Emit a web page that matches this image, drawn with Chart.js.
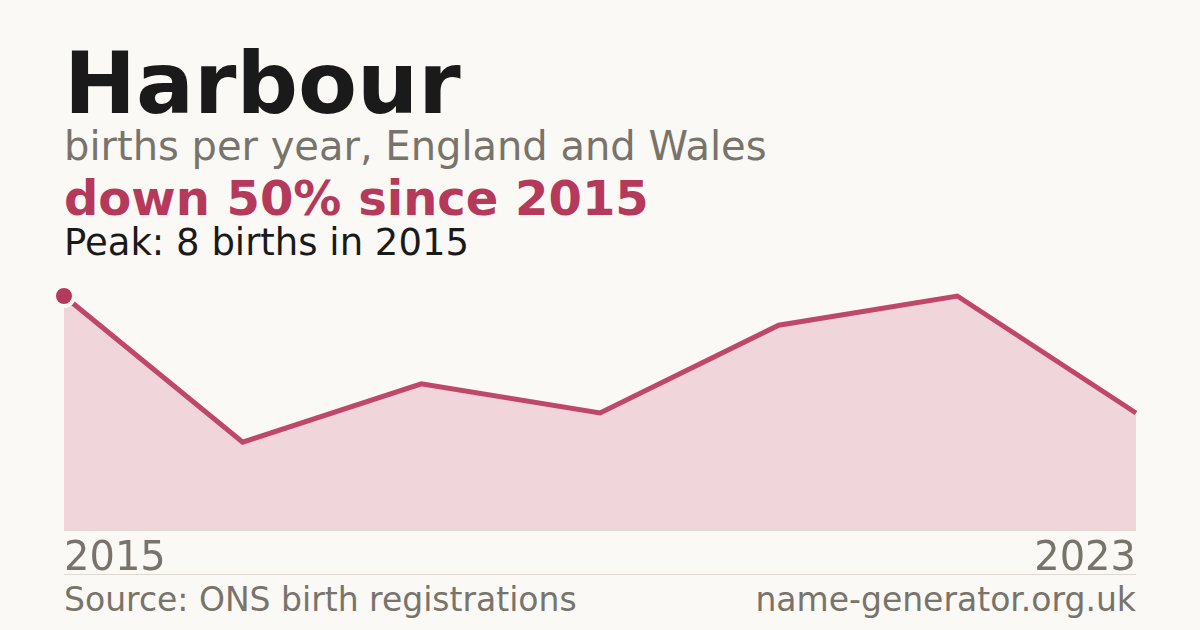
<!DOCTYPE html>
<html>
<head>
<meta charset="utf-8">
<script src="https://cdn.jsdelivr.net/npm/chart.js@4"></script>
<style>
  body { margin: 0; width: 1200px; height: 630px; background: #faf9f5; font-family: "DejaVu Sans", sans-serif; position: relative; overflow: hidden; }
  .t { position: absolute; left: 64px; white-space: nowrap; }
  #title { top: 40px; font-size: 86px; font-weight: bold; color: #1a1a1a; line-height: 1; }
  #sub { top: 126px; font-size: 40px; color: #78736b; line-height: 1; }
  #trend { top: 174px; font-size: 48px; font-weight: bold; color: #b5395a; line-height: 1; }
  #peak { top: 224px; font-size: 37px; color: #1a1a1a; line-height: 1; }
  #wrap { position: absolute; left: 44px; top: 276px; width: 1112px; height: 274px; }
  .yr { position: absolute; top: 536px; font-size: 40px; color: #78736b; line-height: 1; }
  .rule { position: absolute; left: 64px; width: 1072px; height: 1px; background: #ddd8d0; }
  .foot { position: absolute; top: 583px; font-size: 33px; color: #78736b; line-height: 1; white-space: nowrap; }
</style>
</head>
<body>
<div id="title" class="t">Harbour</div>
<div id="sub" class="t">births per year, England and Wales</div>
<div id="trend" class="t">down 50% since 2015</div>
<div id="peak" class="t">Peak: 8 births in 2015</div>
<div class="rule" style="top:530px"></div>
<div id="wrap"><canvas id="myChart"></canvas></div>
<div id="yrFirst" class="yr" style="left:64px"></div>
<div id="yrLast" class="yr" style="right:64px"></div>
<div class="rule" style="top:574px"></div>
<div class="foot" style="left:64px">Source: ONS birth registrations</div>
<div class="foot" style="right:64px">name-generator.org.uk</div>
<script>
let years = ["2015", "2016", "2017", "2019", "2020", "2021", "2023"];
let births = [8, 3, 5, 4, 7, 8, 4];
let yMin = 0;
let yMax = 8;

document.getElementById("yrFirst").textContent = years[0];
document.getElementById("yrLast").textContent = years[years.length - 1];

const ctx = document.getElementById("myChart");
new Chart(ctx, {
  type: "line",
  data: {
    labels: years,
    datasets: [
      {
        data: births,
        borderColor: "#bf4767",
        borderWidth: 5,
        backgroundColor: "#f0d5db",
        fill: "origin",
        tension: 0,
        clip: false,
        pointRadius: births.map((v, i) => (i == 0 ? 10 : 0)),
        pointBackgroundColor: "#b5395a",
        pointBorderColor: "#faf9f5",
        pointBorderWidth: 4,
      },
    ],
  },
  options: {
    responsive: true,
    maintainAspectRatio: false,
    animation: false,
    layout: { padding: 20 },
    plugins: { legend: { display: false }, tooltip: { enabled: false } },
    scales: {
      x: { display: false, offset: false },
      y: { display: false, min: yMin, max: yMax },
    },
  },
});
</script>
</body>
</html>
